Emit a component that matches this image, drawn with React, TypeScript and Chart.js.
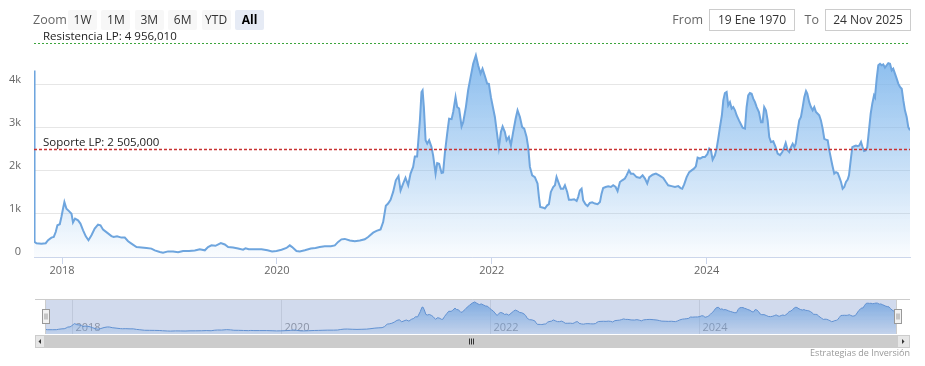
import React, { useEffect, useRef } from 'react';
import { Chart, registerables } from 'chart.js';

Chart.register(...registerables);

// ---- data (time as decimal years, values in units) ----
const timeYears = [
  2017.739, 2017.744, 2017.762, 2017.808, 2017.848, 2017.870, 2017.901, 2017.923, 2017.941, 2017.957,
  2017.979, 2017.994, 2018.009, 2018.022, 2018.041, 2018.065, 2018.088, 2018.102, 2018.121, 2018.149,
  2018.171, 2018.196, 2018.221, 2018.246, 2018.274, 2018.304, 2018.335, 2018.358, 2018.382, 2018.419,
  2018.460, 2018.481, 2018.512, 2018.553, 2018.584, 2018.615, 2018.646, 2018.693, 2018.739, 2018.786,
  2018.832, 2018.863, 2018.910, 2018.940, 2018.987, 2019.034, 2019.080, 2019.127, 2019.182, 2019.236,
  2019.282, 2019.329, 2019.359, 2019.391, 2019.428, 2019.478, 2019.515, 2019.546, 2019.592, 2019.639,
  2019.685, 2019.708, 2019.738, 2019.794, 2019.857, 2019.912, 2019.955, 2019.996, 2020.043, 2020.089,
  2020.120, 2020.142, 2020.182, 2020.213, 2020.260, 2020.316, 2020.359, 2020.399, 2020.446, 2020.502,
  2020.539, 2020.570, 2020.601, 2020.632, 2020.679, 2020.725, 2020.772, 2020.818, 2020.849, 2020.896,
  2020.927, 2020.965, 2020.989, 2021.014, 2021.035, 2021.058, 2021.082, 2021.107, 2021.132, 2021.151,
  2021.175, 2021.197, 2021.222, 2021.244, 2021.268, 2021.284, 2021.305, 2021.331, 2021.346, 2021.356,
  2021.368, 2021.384, 2021.399, 2021.417, 2021.439, 2021.454, 2021.477, 2021.492, 2021.510, 2021.533,
  2021.547, 2021.563, 2021.585, 2021.603, 2021.626, 2021.641, 2021.663, 2021.678, 2021.696, 2021.719,
  2021.734, 2021.759, 2021.780, 2021.803, 2021.827, 2021.852, 2021.873, 2021.896, 2021.914, 2021.936,
  2021.957, 2021.973, 2021.992, 2022.013, 2022.029, 2022.045, 2022.066, 2022.085, 2022.101, 2022.122,
  2022.138, 2022.159, 2022.178, 2022.199, 2022.222, 2022.240, 2022.262, 2022.283, 2022.302, 2022.324,
  2022.339, 2022.355, 2022.376, 2022.401, 2022.426, 2022.439, 2022.451, 2022.479, 2022.494, 2022.516,
  2022.532, 2022.550, 2022.572, 2022.588, 2022.603, 2022.625, 2022.643, 2022.665, 2022.681, 2022.702,
  2022.718, 2022.743, 2022.767, 2022.790, 2022.804, 2022.820, 2022.836, 2022.851, 2022.873, 2022.892,
  2022.913, 2022.935, 2022.960, 2022.985, 2023.007, 2023.022, 2023.037, 2023.060, 2023.084, 2023.109,
  2023.130, 2023.153, 2023.171, 2023.193, 2023.214, 2023.239, 2023.255, 2023.277, 2023.295, 2023.317,
  2023.348, 2023.379, 2023.404, 2023.426, 2023.447, 2023.466, 2023.497, 2023.528, 2023.559, 2023.596,
  2023.621, 2023.642, 2023.674, 2023.705, 2023.736, 2023.758, 2023.773, 2023.791, 2023.814, 2023.838,
  2023.860, 2023.882, 2023.900, 2023.916, 2023.938, 2023.963, 2023.984, 2024.006, 2024.024, 2024.040,
  2024.056, 2024.077, 2024.093, 2024.108, 2024.124, 2024.142, 2024.155, 2024.170, 2024.186, 2024.201,
  2024.217, 2024.233, 2024.248, 2024.264, 2024.279, 2024.301, 2024.319, 2024.335, 2024.357, 2024.372,
  2024.387, 2024.403, 2024.419, 2024.434, 2024.450, 2024.466, 2024.487, 2024.506, 2024.521, 2024.536,
  2024.552, 2024.568, 2024.583, 2024.599, 2024.620, 2024.642, 2024.661, 2024.683, 2024.704, 2024.723,
  2024.736, 2024.754, 2024.769, 2024.785, 2024.801, 2024.816, 2024.829, 2024.847, 2024.862, 2024.878,
  2024.894, 2024.909, 2024.925, 2024.937, 2024.955, 2024.971, 2024.987, 2025.002, 2025.018, 2025.034,
  2025.048, 2025.064, 2025.080, 2025.095, 2025.111, 2025.127, 2025.142, 2025.157, 2025.170, 2025.188,
  2025.204, 2025.220, 2025.235, 2025.251, 2025.266, 2025.281, 2025.297, 2025.313, 2025.325, 2025.341,
  2025.356, 2025.374, 2025.390, 2025.406, 2025.421, 2025.437, 2025.449, 2025.465, 2025.480, 2025.495,
  2025.511, 2025.527, 2025.542, 2025.558, 2025.567, 2025.583, 2025.598, 2025.614, 2025.629, 2025.644,
  2025.660, 2025.676, 2025.691, 2025.707, 2025.723, 2025.737, 2025.753, 2025.769, 2025.784, 2025.800,
  2025.816, 2025.831, 2025.846, 2025.862, 2025.877, 2025.893,
];

const values = [
  4330, 350, 320, 310, 320, 390, 450, 465, 580, 735,
  760, 930, 1120, 1275, 1120, 1065, 1005, 800, 890, 850,
  775, 620, 480, 390, 505, 660, 750, 735, 635, 565,
  485, 465, 480, 450, 450, 365, 310, 230, 220, 210,
  195, 155, 115, 100, 130, 125, 110, 140, 140, 150,
  180, 155, 230, 270, 260, 325, 290, 230, 220, 195,
  170, 200, 180, 180, 180, 155, 130, 140, 170, 210,
  270, 230, 140, 130, 155, 195, 210, 230, 250, 250,
  270, 350, 410, 420, 385, 365, 385, 410, 465, 565,
  605, 640, 810, 1190, 1240, 1330, 1510, 1780, 1880, 1545,
  1705, 1840, 1665, 1935, 2090, 2335, 2335, 3170, 3830, 3870,
  3480, 2710, 2630, 2710, 2550, 2360, 1935, 2180, 2165, 1950,
  1960, 2400, 2865, 3210, 3200, 3365, 3710, 3480, 3445, 3030,
  3130, 3480, 3870, 4175, 4485, 4680, 4450, 4255, 4370, 4200,
  4025, 4020, 3710, 3445, 3250, 2940, 2540, 2900, 3030, 2900,
  2710, 2785, 2590, 2900, 3210, 3405, 3250, 3015, 2980, 2785,
  2550, 2090, 1895, 1855, 1705, 1390, 1160, 1145, 1125, 1200,
  1225, 1510, 1625, 1665, 1855, 1705, 1585, 1585, 1665, 1510,
  1330, 1330, 1340, 1300, 1390, 1545, 1585, 1315, 1225, 1185,
  1255, 1270, 1240, 1225, 1275, 1470, 1600, 1625, 1640, 1625,
  1665, 1625, 1530, 1740, 1780, 1820, 1895, 2010, 1935, 1935,
  1855, 1835, 1895, 1820, 1705, 1855, 1910, 1935, 1895, 1835,
  1740, 1665, 1645, 1625, 1645, 1600, 1585, 1685, 1855, 1970,
  2010, 2050, 2105, 2305, 2285, 2320, 2320, 2385, 2515, 2475,
  2260, 2360, 2515, 2745, 3015, 3290, 3635, 3805, 3830, 3520,
  3595, 3445, 3480, 3405, 3290, 3170, 3080, 3000, 2980, 3480,
  3750, 3805, 3790, 3675, 3595, 3480, 3365, 3130, 3130, 3480,
  3405, 3170, 2785, 2670, 2685, 2550, 2400, 2365, 2435, 2550,
  2645, 2475, 2435, 2550, 2630, 2550, 2630, 2940, 3170, 3250,
  3480, 3710, 3850, 3790, 3595, 3480, 3405, 3480, 3365, 3325,
  3290, 3170, 2980, 2745, 2725, 2710, 2475, 2285, 2130, 1935,
  1970, 1950, 1855, 1740, 1585, 1625, 1740, 1795, 1895, 2245,
  2550, 2570, 2585, 2570, 2590, 2670, 2570, 2460, 2475, 2550,
  2940, 3325, 3560, 3750, 3710, 4140, 4450, 4485, 4450, 4470,
  4395, 4450, 4500, 4485, 4330, 4370, 4255, 4140, 4025, 3945,
  3905, 3635, 3405, 3250, 3015, 2940,
];

const xTickYears = [2018, 2020, 2022, 2024];
const yTickValues = [0, 1000, 2000, 3000, 4000];
const yAxisMax = 4990;

const supportLevel = 2505.0;
const supportLabel = 'Soporte LP: 2 505,000';
const resistanceLevel = 4956.01;
const resistanceLabel = 'Resistencia LP: 4 956,010';

const rangeButtons = ['1W', '1M', '3M', '6M', 'YTD', 'All'];
const selectedRange = 'All';
const fromDate = '19 Ene 1970';
const toDate = '24 Nov 2025';
const creditText = 'Estrategias de Inversión';

const FONT = "'Open Sans', 'Noto Sans', sans-serif";
const LINE_COLOR = 'rgb(110,165,222)';

function areaGradient(chart: any, top: number, bottom: number) {
  const area = chart.chartArea;
  if (!area) return 'rgba(124,181,236,0.4)';
  const g = chart.ctx.createLinearGradient(0, area.top, 0, area.bottom);
  g.addColorStop(0, `rgba(124,181,236,${top})`);
  g.addColorStop(1, `rgba(124,181,236,${bottom})`);
  return g;
}

const plotLinesPlugin = {
  id: 'plotLines',
  afterDatasetsDraw(chart: any) {
    const { ctx, chartArea, scales } = chart;
    const y = scales.y;
    const lines = [
      { value: supportLevel, label: supportLabel, color: 'rgb(200,50,50)', width: 1.6, dash: [3, 2] },
      { value: resistanceLevel, label: resistanceLabel, color: 'rgb(60,165,60)', width: 1, dash: [2, 2] },
    ];
    ctx.save();
    for (const l of lines) {
      const py = Math.round(y.getPixelForValue(l.value)) + 0.5;
      ctx.beginPath();
      ctx.setLineDash(l.dash);
      ctx.strokeStyle = l.color;
      ctx.lineWidth = l.width;
      ctx.moveTo(chartArea.left, py);
      ctx.lineTo(chartArea.right, py);
      ctx.stroke();
      ctx.setLineDash([]);
      ctx.fillStyle = '#222';
      ctx.font = `11.5px ${FONT}`;
      ctx.textAlign = 'left';
      ctx.textBaseline = 'alphabetic';
      ctx.fillText(l.label, chartArea.left + 9, py - 3.5);
    }
    ctx.restore();
  },
};

const navigatorPlugin = {
  id: 'navigatorDecor',
  beforeDatasetsDraw(chart: any) {
    const { ctx, chartArea, scales } = chart;
    const x = scales.x;
    ctx.save();
    ctx.strokeStyle = '#e6e6e6';
    ctx.lineWidth = 1;
    ctx.font = `11px ${FONT}`;
    ctx.fillStyle = '#999';
    ctx.textAlign = 'left';
    ctx.textBaseline = 'alphabetic';
    for (const t of xTickYears) {
      const px = Math.round(x.getPixelForValue(t)) + 0.5;
      ctx.beginPath();
      ctx.moveTo(px, chartArea.top);
      ctx.lineTo(px, chartArea.bottom);
      ctx.stroke();
      ctx.fillText(String(t), px + 3, chartArea.bottom - 3);
    }
    ctx.restore();
  },
  afterDatasetsDraw(chart: any) {
    const { ctx, chartArea } = chart;
    const { left, right, top, bottom } = chartArea;
    ctx.save();
    // mask over the selected range (whole series)
    ctx.fillStyle = 'rgba(102,133,194,0.3)';
    ctx.fillRect(left, top, right - left, bottom - top);
    // outline
    ctx.strokeStyle = '#cccccc';
    ctx.lineWidth = 1;
    ctx.beginPath();
    ctx.moveTo(left - 10, top + 0.5);
    ctx.lineTo(right + 13, top + 0.5);
    ctx.moveTo(left + 0.5, top);
    ctx.lineTo(left + 0.5, bottom);
    ctx.moveTo(right - 0.5, top);
    ctx.lineTo(right - 0.5, bottom);
    ctx.stroke();
    // handles
    const mid = (top + bottom) / 2;
    for (const hx of [left, right]) {
      const rx = Math.round(hx - 3.5) + 0.5;
      const ry = Math.round(mid - 7.5) + 0.5;
      ctx.fillStyle = '#f2f2f2';
      ctx.strokeStyle = '#999999';
      ctx.fillRect(rx, ry, 7, 14);
      ctx.strokeRect(rx, ry, 7, 14);
      ctx.beginPath();
      ctx.moveTo(rx + 2.5, ry + 4);
      ctx.lineTo(rx + 2.5, ry + 10);
      ctx.moveTo(rx + 4.5, ry + 4);
      ctx.lineTo(rx + 4.5, ry + 10);
      ctx.stroke();
    }
    // scrollbar
    const sTop = bottom + 1;
    const sH = 13;
    ctx.fillStyle = '#f2f2f2';
    ctx.fillRect(left - 10, sTop, right - left + 23, sH);
    ctx.fillStyle = '#cccccc';
    ctx.fillRect(left, sTop, right - left, sH);
    ctx.fillStyle = '#e6e6e6';
    ctx.fillRect(left - 10, sTop, 10, sH);
    ctx.fillRect(right, sTop, 13, sH);
    ctx.strokeStyle = '#cccccc';
    ctx.strokeRect(left - 9.5, sTop + 0.5, 9, sH - 1);
    ctx.strokeRect(right + 0.5, sTop + 0.5, 12, sH - 1);
    // arrows
    ctx.fillStyle = '#333';
    const cy = sTop + sH / 2;
    ctx.beginPath();
    ctx.moveTo(left - 6.5, cy);
    ctx.lineTo(left - 4, cy - 2.5);
    ctx.lineTo(left - 4, cy + 2.5);
    ctx.closePath();
    ctx.fill();
    ctx.beginPath();
    ctx.moveTo(right + 7.5, cy);
    ctx.lineTo(right + 5, cy - 2.5);
    ctx.lineTo(right + 5, cy + 2.5);
    ctx.closePath();
    ctx.fill();
    // rifles
    const cx = Math.round((left + right) / 2);
    ctx.strokeStyle = '#333';
    ctx.beginPath();
    for (const dx of [-2, 0, 2]) {
      ctx.moveTo(cx + dx + 0.5, cy - 3);
      ctx.lineTo(cx + dx + 0.5, cy + 3);
    }
    ctx.stroke();
    ctx.restore();
  },
};

export default function App() {
  const mainRef = useRef<HTMLCanvasElement | null>(null);
  const navRef = useRef<HTMLCanvasElement | null>(null);

  useEffect(() => {
    const points = timeYears.map((t, i) => ({ x: t, y: values[i] }));
    const xMin = timeYears[0];
    const xMax = timeYears[timeYears.length - 1];

    const main = new Chart(mainRef.current as HTMLCanvasElement, {
      type: 'line',
      data: {
        datasets: [
          {
            data: points,
            borderColor: LINE_COLOR,
            borderWidth: 2,
            pointRadius: 0,
            tension: 0,
            fill: 'start',
            backgroundColor: (c: any) => areaGradient(c.chart, 0.95, 0.04),
          },
        ],
      },
      options: {
        animation: false,
        responsive: false,
        maintainAspectRatio: false,
        events: [],
        layout: { padding: { top: 42, right: 15, left: 0, bottom: 0 } },
        plugins: { legend: { display: false }, tooltip: { enabled: false } },
        scales: {
          x: {
            type: 'linear',
            min: xMin,
            max: xMax,
            afterBuildTicks: (s: any) => {
              s.ticks = xTickYears.map((v) => ({ value: v }));
            },
            afterFit: (s: any) => {
              s.height = 28;
            },
            grid: { drawOnChartArea: false, drawTicks: true, tickLength: 7, color: '#ccd6eb' },
            border: { display: true, color: '#ccd6eb' },
            ticks: {
              padding: 0,
              color: '#666',
              font: { family: FONT, size: 11 },
              maxRotation: 0,
              autoSkip: false,
              callback: (v: any) => String(v),
            },
          },
          y: {
            min: 0,
            max: yAxisMax,
            afterBuildTicks: (s: any) => {
              s.ticks = yTickValues.map((v) => ({ value: v }));
            },
            afterFit: (s: any) => {
              s.width = 34;
            },
            grid: { color: '#e6e6e6', drawTicks: false },
            border: { display: false },
            ticks: {
              padding: 13,
              labelOffset: -5,
              color: '#666',
              font: { family: FONT, size: 11 },
              callback: (v: any) => (v === 0 ? '0' : `${v / 1000}k`),
            },
          },
        },
      },
      plugins: [plotLinesPlugin],
    } as any);

    const vMin = Math.min(...values);
    const vMax = Math.max(...values);
    const pad = (vMax - vMin) * 0.1;

    const nav = new Chart(navRef.current as HTMLCanvasElement, {
      type: 'line',
      data: {
        datasets: [
          {
            data: points,
            borderColor: 'rgb(95,150,215)',
            borderWidth: 1,
            pointRadius: 0,
            tension: 0,
            fill: 'start',
            backgroundColor: (c: any) => areaGradient(c.chart, 0.95, 0.15),
          },
        ],
      },
      options: {
        animation: false,
        responsive: false,
        maintainAspectRatio: false,
        events: [],
        layout: { padding: { top: 0, right: 28, left: 45, bottom: 15 } },
        plugins: { legend: { display: false }, tooltip: { enabled: false } },
        scales: {
          x: { type: 'linear', display: false, min: xMin, max: xMax },
          y: { display: false, min: vMin - pad, max: vMax + pad },
        },
      },
      plugins: [navigatorPlugin],
    } as any);

    return () => {
      main.destroy();
      nav.destroy();
    };
  }, []);

  const btnLeft0 = 68;
  const btnPitch = 33.4;

  return (
    <div
      style={{
        position: 'fixed',
        left: 0,
        top: 0,
        width: 925,
        height: 366,
        background: '#fff',
        fontFamily: FONT,
        overflow: 'hidden',
      }}
    >
      <canvas
        ref={mainRef}
        width={925}
        height={285}
        style={{ position: 'absolute', left: 0, top: 0, width: 925, height: 285 }}
      />
      <canvas
        ref={navRef}
        width={925}
        height={50}
        style={{ position: 'absolute', left: 0, top: 299, width: 925, height: 50 }}
      />
      <div style={{ position: 'absolute', left: 33, top: 10, height: 20, lineHeight: '20px', fontSize: 12.5, color: '#666' }}>
        Zoom
      </div>
      {rangeButtons.map((b, i) => (
        <div
          key={b}
          style={{
            position: 'absolute',
            left: btnLeft0 + i * btnPitch,
            top: 10,
            width: 29,
            height: 20,
            lineHeight: '20px',
            textAlign: 'center',
            fontSize: 12,
            borderRadius: 2,
            background: b === selectedRange ? '#e6ebf5' : '#f7f7f7',
            color: b === selectedRange ? '#000' : '#333',
            fontWeight: b === selectedRange ? 700 : 400,
          }}
        >
          {b}
        </div>
      ))}
      <div style={{ position: 'absolute', left: 660, width: 43, top: 9, height: 21, lineHeight: '21px', fontSize: 12.5, color: '#666', textAlign: 'right' }}>
        From
      </div>
      <div
        style={{
          position: 'absolute',
          left: 709,
          top: 9,
          width: 84,
          height: 20,
          lineHeight: '20px',
          border: '1px solid #ccc',
          textAlign: 'center',
          fontSize: 12,
          color: '#333',
        }}
      >
        {fromDate}
      </div>
      <div style={{ position: 'absolute', left: 790, width: 29, top: 9, height: 21, lineHeight: '21px', fontSize: 12.5, color: '#666', textAlign: 'right' }}>
        To
      </div>
      <div
        style={{
          position: 'absolute',
          left: 825,
          top: 9,
          width: 84,
          height: 20,
          lineHeight: '20px',
          border: '1px solid #ccc',
          textAlign: 'center',
          fontSize: 12,
          color: '#333',
        }}
      >
        {toDate}
      </div>
      <div
        style={{
          position: 'absolute',
          right: 925 - 910,
          top: 347,
          fontSize: 9,
          lineHeight: '12px',
          color: '#999',
          fontFamily: FONT,
        }}
      >
        {creditText}
      </div>
    </div>
  );
}
